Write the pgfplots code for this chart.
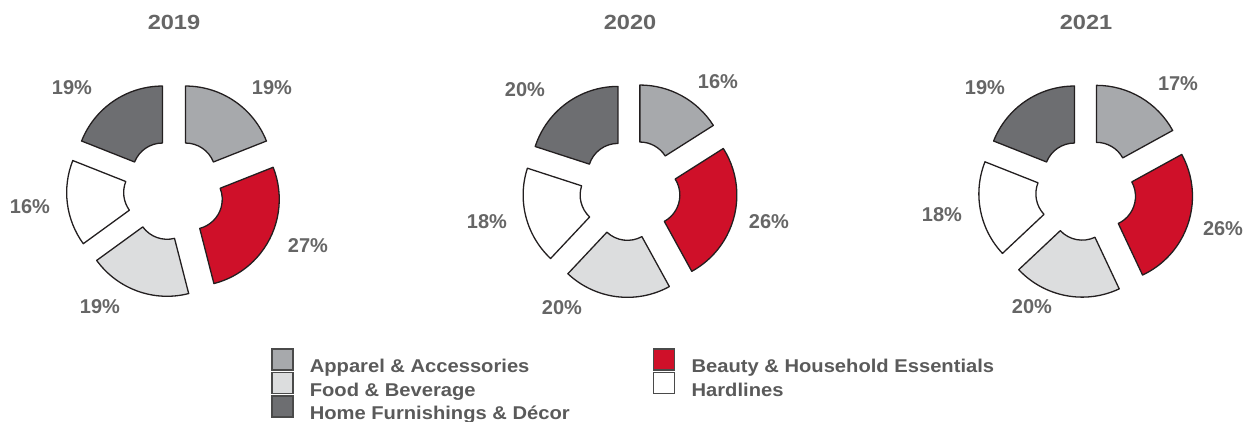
\documentclass[border=0pt]{standalone}
\usepackage{pgfplots}
\pgfplotsset{compat=1.18}
\usepackage{pgfplotstable}
\usepackage{fontspec}
\setmainfont{Liberation Sans}
\newfontfamily\widefont[FakeStretch=1.15]{Liberation Sans}
\newfontfamily\legfont[FakeStretch=1.09]{Liberation Sans}

\definecolor{seg0}{HTML}{A7A9AC}
\definecolor{seg1}{HTML}{CF1029}
\definecolor{seg2}{HTML}{DCDDDE}
\definecolor{seg3}{HTML}{FFFFFF}
\definecolor{seg4}{HTML}{6D6E71}
\definecolor{edge}{HTML}{231F20}
\definecolor{txt}{HTML}{666666}
\definecolor{legtxt}{HTML}{5A5A5A}
\definecolor{legedge}{HTML}{4A4A4A}

% share by category, clockwise from 12 o'clock
% (apparel, beauty, food, hardlines, home); lx ly = where the label sits
\pgfplotstableread{
val lx ly
19 272 334
27 308 176
19 100 115
16 30 215
19 72 334
}\yrA
\pgfplotstableread{
val lx ly
16 718 340
26 769 200
20 562 114
18 487 200
20 525 332
}\yrB
\pgfplotstableread{
val lx ly
17 1178 338
26 1223 193
20 1032 115
18 942 207
19 985 334
}\yrC

\def\rout{87}
\def\rin{30}
\def\gap{20.5}

% #1 table, #2 #3 centre of the ring
\newcommand\donut[3]{%
  \def\cum{0}%
  \pgfplotsforeachungrouped \i in {0,...,4}{%
    \pgfplotstablegetelem{\i}{val}\of#1%
    \let\segv\pgfplotsretval
    \pgfmathsetmacro\aone{90-3.6*\cum}%
    \pgfmathsetmacro\atwo{\aone-3.6*\segv}%
    \pgfmathsetmacro\amid{(\aone+\atwo)/2}%
    \pgfmathsetmacro\ox{#2+\gap*cos(\amid)}%
    \pgfmathsetmacro\oy{#3+\gap*sin(\amid)}%
    \pgfmathsetmacro\pax{\ox+\rin*cos(\aone)}%
    \pgfmathsetmacro\pay{\oy+\rin*sin(\aone)}%
    \pgfmathsetmacro\pbx{\ox+\rout*cos(\aone)}%
    \pgfmathsetmacro\pby{\oy+\rout*sin(\aone)}%
    \pgfmathsetmacro\pcx{\ox+\rin*cos(\atwo)}%
    \pgfmathsetmacro\pcy{\oy+\rin*sin(\atwo)}%
    \pgfmathsetmacro\cum{\cum+\segv}%
    \edef\temp{\noexpand\draw[line width=1.3pt, draw=edge, fill=seg\i, line join=round]
      (axis cs:\pax,\pay) -- (axis cs:\pbx,\pby)
      arc[start angle=\aone, end angle=\atwo, radius=\rout pt]
      -- (axis cs:\pcx,\pcy)
      arc[start angle=\atwo, end angle=\aone, radius=\rin pt] -- cycle;}%
    \temp
  }%
}

\pgfplotsset{
  pct/.style={forget plot, only marks, mark=*, mark size=0pt,
    mark options={draw=none, fill=none},
    point meta=explicit,
    nodes near coords={\pgfmathprintnumber[assume math mode=true]{\pgfplotspointmeta}\%},
    nodes near coords align=center,
    every node near coord/.append style={inner sep=0pt, text=txt,
      font=\bfseries\fontsize{20}{24}\selectfont}},
}

\begin{document}
\begin{tikzpicture}
\begin{axis}[
    x=1pt, y=1pt,
    xmin=0, xmax=1247, ymin=0, ymax=422,
    hide axis, clip=false,
    /pgf/number format/assume math mode=true,
    legend columns=2,
    legend cell align=left,
    legend image code/.code={
      \draw[#1] (0pt,-2pt) rectangle (21pt,19pt);
      \path[draw=none, fill=none] (0pt,0pt) -- (38pt,0pt);
    },
    legend style={at={(axis cs:271,74)}, anchor=north west,
      draw=none, fill=none, inner sep=0pt, outer sep=0pt,
      row sep=-5pt, column sep=0pt,
      nodes={inner sep=0pt, text height=13.5pt, text depth=4pt, text=legtxt,
        font=\legfont\bfseries\fontsize{18.5}{20}\selectfont}},
  ]
  \donut{\yrA}{174}{232}
  \donut{\yrB}{630}{232}
  \donut{\yrC}{1086}{232}

  \addplot[pct] table[x=lx, y=ly, meta=val] {\yrA};
  \addplot[pct] table[x=lx, y=ly, meta=val] {\yrB};
  \addplot[pct] table[x=lx, y=ly, meta=val] {\yrC};

  \node[text=txt, font=\widefont\bfseries\fontsize{20.5}{24}\selectfont] at (axis cs:174,400) {2019};
  \node[text=txt, font=\widefont\bfseries\fontsize{20.5}{24}\selectfont] at (axis cs:630,400) {2020};
  \node[text=txt, font=\widefont\bfseries\fontsize{20.5}{24}\selectfont] at (axis cs:1086,400) {2021};

  \addlegendimage{fill=seg0, draw=legedge, line width=1.6pt}
  \addlegendentry{\makebox[343pt][l]{Apparel \& Accessories}}
  \addlegendimage{fill=seg1, draw=legedge, line width=1.6pt}
  \addlegendentry{Beauty \& Household Essentials}
  \addlegendimage{fill=seg2, draw=legedge, line width=1.6pt}
  \addlegendentry{\makebox[343pt][l]{Food \& Beverage}}
  \addlegendimage{fill=seg3, draw=legedge, line width=1.6pt}
  \addlegendentry{Hardlines}
  \addlegendimage{fill=seg4, draw=legedge, line width=1.6pt}
  \addlegendentry{\makebox[343pt][l]{Home Furnishings \& Décor}}
\end{axis}
\pgfresetboundingbox
\path (current axis.south west) rectangle (current axis.north east);
\end{tikzpicture}
\end{document}
